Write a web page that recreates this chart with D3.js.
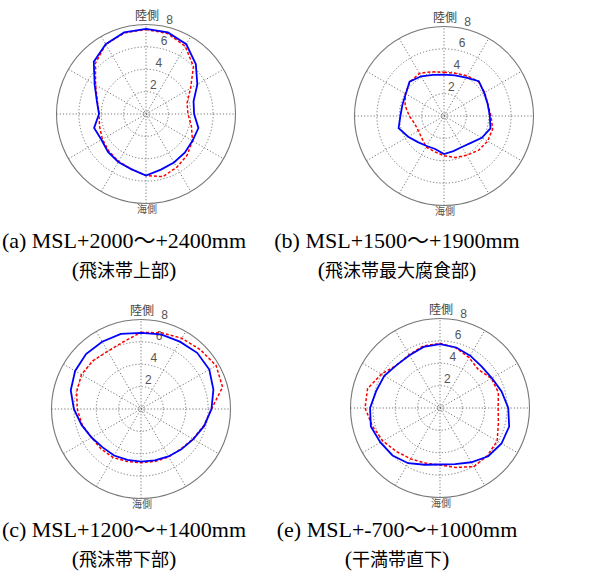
<!DOCTYPE html>
<html>
<head>
<meta charset="utf-8">
<script src="https://cdn.jsdelivr.net/npm/d3@7"></script>
<style>
body { margin: 0; background: #fff; }
</style>
</head>
<body>
<div id="chart"></div>
<script>
// Data: angle (deg, clockwise from 陸側) and thickness-like values 0-8

var angles = [0, 15, 30, 45, 60, 75, 90, 105, 120, 135, 150, 165,
              180, 195, 210, 225, 240, 255, 270, 285, 300, 315, 330, 345];

var blueA = [7.6, 7.55, 7.2, 6.3, 5.3, 4.4, 4.3, 4.85, 4.8, 4.9, 5.0, 5.15,
             5.5, 5.1, 4.95, 4.8, 4.6, 4.8, 4.2, 4.55, 5.3, 6.6, 7.2, 7.55];
var redA  = [7.55, 7.45, 7.0, 6.0, 4.6, 3.8, 3.75, 4.2, 4.8, 5.2, 5.5, 5.8,
             5.5, 5.1, 4.9, 4.7, 4.5, 4.3, 4.2, 4.5, 5.2, 6.4, 7.2, 7.5];

var blueB = [3.7, 3.75, 3.95, 4.4, 4.15, 4.05, 4.1, 4.3, 3.9, 3.4, 3.2, 3.25,
             3.4, 3.05, 3.1, 3.3, 3.7, 4.2, 3.9, 3.85, 3.95, 4.35, 4.1, 3.8];
var redB  = [3.9, 3.95, 4.15, 4.35, 4.2, 4.05, 4.2, 4.5, 4.5, 4.35, 4.05, 3.85,
             3.55, 3.3, 3.2, 2.8, 2.65, 2.7, 3.1, 3.6, 4.0, 4.3, 4.4, 4.1];

var blueC = [6.8, 6.9, 6.95, 7.1, 7.05, 6.7, 6.3, 5.85, 5.4, 5.1, 4.9, 4.75,
             4.7, 4.7, 4.8, 4.85, 5.1, 5.5, 6.0, 6.5, 6.8, 6.95, 6.95, 6.95];
var redC  = [6.85, 7.05, 7.3, 7.5, 7.75, 7.55, 6.3, 5.8, 5.35, 5.05, 4.95, 4.85,
             4.8, 4.85, 5.0, 5.05, 5.1, 5.45, 5.7, 5.95, 6.15, 6.1, 5.95, 6.2];

var blueE = [5.7, 5.6, 5.4, 5.25, 5.35, 5.7, 6.1, 6.4, 6.35, 6.1, 5.6, 5.2,
             5.05, 5.25, 5.7, 6.0, 6.15, 6.4, 6.25, 5.9, 5.75, 5.45, 5.45, 5.65];
var redE  = [5.78, 5.55, 5.2, 4.85, 5.3, 5.4, 5.2, 5.4, 5.9, 6.0, 6.05, 5.5,
             5.1, 5.1, 5.25, 5.5, 5.9, 6.25, 6.7, 6.7, 6.05, 5.45, 5.5, 5.75];

var rTicks = [2, 4, 6, 8];
var spokes = [0, 30, 60, 90, 120, 150];

var captionLine1 = ["(a) MSL+2000～+2400mm", "(b) MSL+1500～+1900mm",
                    "(c) MSL+1200～+1400mm", "(e) MSL+-700～+1000mm"];
var captionLine2 = ["飛沫帯上部", "飛沫帯最大腐食部", "飛沫帯下部", "干満帯直下"];

var topLabel = "陸側";
var bottomLabel = "海側";

// Layout

var width = 592, height = 578;
var panels = [
    {cx: 146, cy: 114, tx: 124, ty: 248, blue: blueA, red: redA},
    {cx: 444, cy: 116, tx: 397, ty: 248, blue: blueB, red: redB},
    {cx: 141, cy: 409, tx: 124, ty: 537, blue: blueC, red: redC},
    {cx: 440, cy: 408, tx: 397, ty: 537, blue: blueE, red: redE}
];

var outerR = 89.5;
var r = d3.scaleLinear().domain([0, 8]).range([0, outerR]);

var svg = d3.select("#chart").append("svg")
    .attr("width", width)
    .attr("height", height);

var line = d3.lineRadial()
    .angle(function(d) { return d.a * Math.PI / 180; })
    .radius(function(d) { return r(d.v); })
    .curve(d3.curveLinearClosed);

panels.forEach(function(p, i) {
    var g = svg.append("g")
        .attr("transform", "translate(" + p.cx + "," + p.cy + ")");

    // Grid - spokes
    spokes.forEach(function(s) {
        var a = s * Math.PI / 180;
        g.append("line")
            .attr("x1", -outerR * Math.sin(a)).attr("y1", outerR * Math.cos(a))
            .attr("x2", outerR * Math.sin(a)).attr("y2", -outerR * Math.cos(a))
            .attr("stroke", "#666")
            .attr("stroke-width", 0.9)
            .attr("stroke-dasharray", "1.2,2");
    });

    // Grid - rings
    g.append("circle")
        .attr("r", 3)
        .attr("fill", "none")
        .attr("stroke", "#777")
        .attr("stroke-width", 0.8)
        .attr("stroke-dasharray", "1,1");

    rTicks.slice(0, -1).forEach(function(t) {
        g.append("circle")
            .attr("r", r(t))
            .attr("fill", "none")
            .attr("stroke", "#666")
            .attr("stroke-width", 0.9)
            .attr("stroke-dasharray", "1.2,2");
    });

    g.append("circle") // Rahmen
        .attr("r", r(8))
        .attr("fill", "none")
        .attr("stroke", "#777")
        .attr("stroke-width", 1.1);

    // Tick labels
    rTicks.forEach(function(t) {
        var rr = r(t) + 8;
        var a = 76 * Math.PI / 180;
        g.append("text")
            .attr("x", rr * Math.cos(a))
            .attr("y", -rr * Math.sin(a))
            .attr("text-anchor", "middle")
            .attr("dy", "0.35em")
            .attr("fill", "#555")
            .style("font-family", "'Liberation Sans', Arial, sans-serif")
            .style("font-size", "12px")
            .text(t);
    });

    g.append("text")
        .attr("x", 1).attr("y", -98)
        .attr("dy", "0.35em")
        .attr("text-anchor", "middle")
        .attr("fill", "#444")
        .style("font-family", "'Noto Sans CJK JP', sans-serif")
        .style("font-size", "12px")
        .text(topLabel);

    g.append("text")
        .attr("x", 1).attr("y", 95)
        .attr("dy", "0.35em")
        .attr("text-anchor", "middle")
        .attr("fill", "#555")
        .style("font-family", "'Noto Sans CJK JP', sans-serif")
        .style("font-size", "10px")
        .text(bottomLabel);

    // Series
    var red = angles.map(function(a, j) { return {a: a, v: p.red[j]}; });
    var blue = angles.map(function(a, j) { return {a: a, v: p.blue[j]}; });

    g.append("path")
        .attr("d", line(red))
        .attr("fill", "none")
        .attr("stroke", "#ff0000")
        .attr("stroke-width", 1.5)
        .attr("stroke-dasharray", "3,2");

    g.append("path")
        .attr("d", line(blue))
        .attr("fill", "none")
        .attr("stroke", "#0000ff")
        .attr("stroke-width", 1.8);

    // Captions
    svg.append("text")
        .attr("x", p.tx).attr("y", p.ty)
        .attr("text-anchor", "middle")
        .style("font-family", "'Liberation Serif', 'Times New Roman', 'Noto Sans CJK JP', serif")
        .style("font-size", "22px")
        .text(captionLine1[i]);

    var t2 = svg.append("text")
        .attr("x", p.tx).attr("y", p.ty + 29)
        .attr("text-anchor", "middle")
        .style("font-family", "'Liberation Serif', 'Times New Roman', serif")
        .style("font-size", "22px");
    t2.append("tspan").text("(");
    t2.append("tspan")
        .style("font-family", "'Noto Sans CJK JP', sans-serif")
        .style("font-size", "18px")
        .text(captionLine2[i]);
    t2.append("tspan").text(")");
});
</script>
</body>
</html>
